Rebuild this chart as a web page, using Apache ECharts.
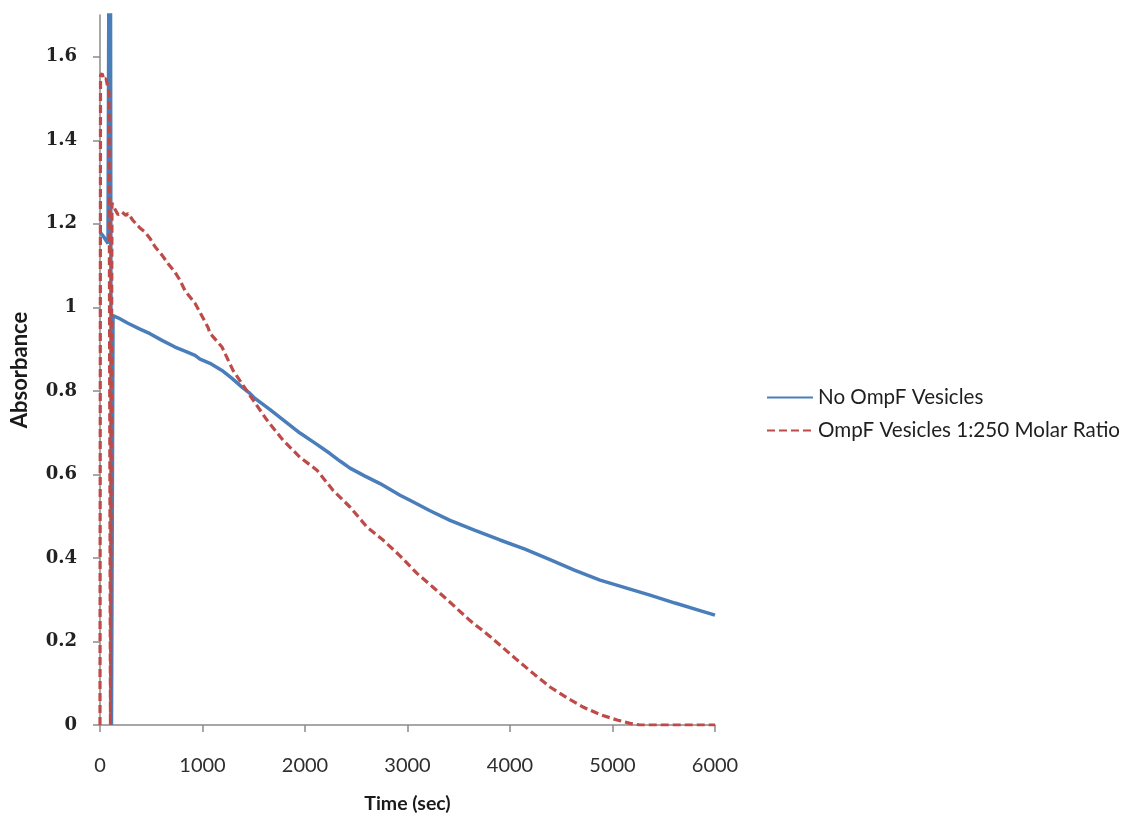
<!DOCTYPE html>
<html>
<head>
<meta charset="utf-8">
<title>Absorbance vs Time</title>
<script src="https://cdn.jsdelivr.net/npm/echarts@6/dist/echarts.min.js"></script>
<style>
  html, body { margin: 0; padding: 0; background: #ffffff; }
  #chart { width: 1138px; height: 817px; }
</style>
</head>
<body>
<div id="chart"></div>
<script>
// Time points (sec) and absorbance readings for each sample
const noOmpfTime = [0, 39, 78, 98, 112, 127, 176, 273, 390, 488, 605, 732, 829, 927, 976, 1073, 1190, 1288, 1385, 1463, 1512, 1659, 1805, 1951, 2098, 2244, 2341, 2439, 2585, 2732, 2927, 3024, 3220, 3415, 3659, 3902, 4146, 4390, 4634, 4878, 5122, 5366, 5610, 5854, 6000];
const noOmpfAbs  = [1.18, 1.168, 1.153, 2.6, 0, 0.98, 0.975, 0.962, 0.948, 0.937, 0.921, 0.905, 0.895, 0.885, 0.876, 0.866, 0.849, 0.83, 0.809, 0.794, 0.782, 0.755, 0.727, 0.699, 0.675, 0.65, 0.632, 0.615, 0.596, 0.578, 0.55, 0.538, 0.513, 0.49, 0.466, 0.443, 0.421, 0.396, 0.37, 0.347, 0.329, 0.311, 0.292, 0.274, 0.263];

const ompfTime = [0, 5, 20, 39, 59, 78, 88, 102, 117, 146, 176, 215, 254, 273, 322, 390, 439, 488, 537, 605, 663, 732, 780, 829, 927, 1054, 1073, 1190, 1298, 1463, 1629, 1785, 1951, 2117, 2273, 2439, 2605, 2761, 2927, 3093, 3249, 3415, 3610, 3805, 4068, 4244, 4390, 4556, 4712, 4878, 5044, 5171, 5268, 5854, 6000];
const ompfAbs  = [0, 1.555, 1.56, 1.545, 1.548, 1.525, 1.515, 0, 1.25, 1.235, 1.222, 1.228, 1.22, 1.225, 1.208, 1.19, 1.18, 1.165, 1.145, 1.125, 1.105, 1.084, 1.065, 1.04, 1.01, 0.952, 0.938, 0.905, 0.849, 0.789, 0.73, 0.682, 0.641, 0.61, 0.562, 0.522, 0.474, 0.443, 0.405, 0.363, 0.33, 0.294, 0.25, 0.212, 0.156, 0.12, 0.091, 0.065, 0.043, 0.025, 0.012, 0.004, 0, 0, 0];

const xTicks = [0, 1000, 2000, 3000, 4000, 5000, 6000];
const yTicks = [0, 0.2, 0.4, 0.6, 0.8, 1.0, 1.2, 1.4, 1.6];

const seriesNames = ['No OmpF Vesicles', 'OmpF Vesicles 1:250 Molar Ratio'];

const pair = (xs, ys) => xs.map((x, i) => [x, ys[i]]);

const SANS = 'Lato, "Open Sans", "Liberation Sans", sans-serif';
const SERIF = '"DejaVu Serif", "Liberation Serif", serif';

const chart = echarts.init(document.getElementById('chart'), null, { renderer: 'canvas' });

chart.setOption({
  animation: false,
  backgroundColor: '#ffffff',
  grid: { left: 100, right: 423, top: 15, bottom: 92, containLabel: false, outerBoundsMode: 'none' },
  legend: {
    orient: 'vertical',
    left: 766,
    top: 387,
    padding: 0,
    itemWidth: 46,
    itemHeight: 14,
    itemGap: 12,
    itemStyle: { opacity: 0 },
    textStyle: { fontFamily: SANS, fontSize: 20.6, color: '#1f1f1f' },
    data: seriesNames
  },
  xAxis: {
    type: 'value',
    min: 0,
    max: 6000,
    interval: 1000,
    name: 'Time (sec)',
    nameLocation: 'middle',
    nameGap: 69,
    nameTextStyle: { fontFamily: SANS, fontSize: 19.5, fontWeight: 'bold', color: '#1a1a1a' },
    axisLine: { show: true, lineStyle: { color: '#8a8a8a', width: 1.5 } },
    axisTick: { show: true, inside: false, length: 7, lineStyle: { color: '#8a8a8a', width: 1.5 } },
    axisLabel: {
      fontFamily: SANS, fontSize: 20, color: '#2e2e2e', margin: 31,
      customValues: xTicks,
      formatter: v => String(v)
    },
    splitLine: { show: false }
  },
  yAxis: {
    type: 'value',
    min: 0,
    max: 1.7,
    interval: 0.2,
    name: 'Absorbance',
    nameLocation: 'middle',
    nameGap: 69,
    nameRotate: 90,
    nameTextStyle: { fontFamily: SANS, fontSize: 22, fontWeight: 'bold', color: '#1a1a1a' },
    axisLine: { show: true, lineStyle: { color: '#8a8a8a', width: 1.5 } },
    axisTick: { show: true, inside: false, length: 7, lineStyle: { color: '#8a8a8a', width: 1.5 }, customValues: yTicks },
    axisLabel: {
      fontFamily: SERIF, fontSize: 18, fontWeight: 'bold', color: '#222222', margin: 23,
      customValues: yTicks,
      formatter: v => String(Math.round(v * 10) / 10)
    },
    splitLine: { show: false }
  },
  series: [
    {
      name: seriesNames[0],
      type: 'line',
      data: pair(noOmpfTime, noOmpfAbs),
      symbol: 'none',
      clip: true,
      color: '#4a7ebb',
      lineStyle: { color: '#4a7ebb', width: 3.5 },
      z: 2
    },
    {
      name: seriesNames[1],
      type: 'line',
      data: pair(ompfTime, ompfAbs),
      symbol: 'none',
      clip: true,
      color: '#be4b48',
      lineStyle: { color: '#be4b48', width: 3.2, type: [8, 4] },
      z: 3
    }
  ]
});
</script>
</body>
</html>
